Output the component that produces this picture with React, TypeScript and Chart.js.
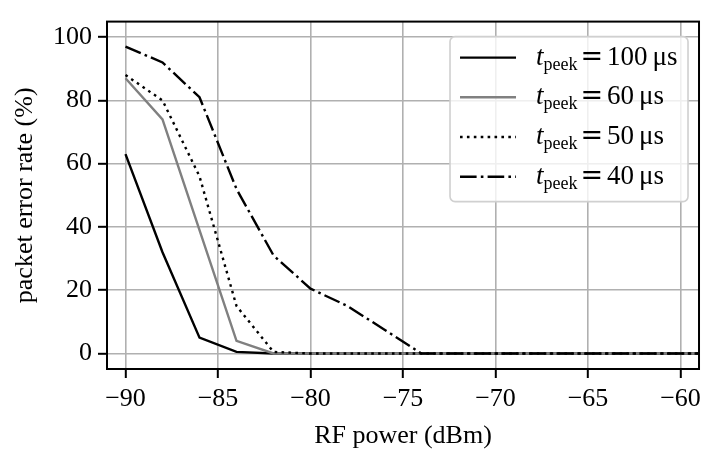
import React, { useEffect, useRef } from 'react';
import { Chart, registerables } from 'chart.js';

Chart.register(...registerables);

const rfPower = [-90, -88, -86, -84, -82, -80, -78, -76, -74, -72, -70, -68, -66, -64, -62, -60, -58];
const per100us = [63, 32, 5, 0.5, 0, 0, 0, 0, 0, 0, 0, 0, 0, 0, 0, 0, 0];
const per60us = [87, 74, 39, 4, 0, 0, 0, 0, 0, 0, 0, 0, 0, 0, 0, 0, 0];
const per50us = [88, 80, 56, 15, 0.5, 0, 0, 0, 0, 0, 0, 0, 0, 0, 0, 0, 0];
const per40us = [97, 92, 81, 52, 31, 20.5, 15, 7.5, 0, 0, 0, 0, 0, 0, 0, 0, 0];
const tpeekValues = ['100', '60', '50', '40'];
const xTicks = [-90, -85, -80, -75, -70, -65, -60];
const yTicks = [0, 20, 40, 60, 80, 100];

const FONT = '"Liberation Serif", "Times New Roman", serif';
const FS = 26;
const LW = 2.4;

const styles = [
  { color: '#000000', dash: [] as number[] },
  { color: '#808080', dash: [] as number[] },
  { color: '#000000', dash: [2.6, 4.3] },
  { color: '#000000', dash: [16.6, 4.2, 2.6, 4.2] },
];

const fmt = (v: number) => (v < 0 ? '\u2212' + Math.abs(v) : String(v));

const framePlugin = {
  id: 'frame',
  afterDatasetsDraw(chart: any) {
    const { ctx, chartArea: a } = chart;
    ctx.save();
    ctx.strokeStyle = '#000';
    ctx.lineWidth = 2;
    ctx.strokeRect(a.left, a.top, a.right - a.left, a.bottom - a.top);
    ctx.restore();
  },
};

const legendPlugin = {
  id: 'mplLegend',
  afterDraw(chart: any) {
    const { ctx, chartArea: a } = chart;
    const w = 238;
    const h = 165;
    const x0 = a.right - 11 - w;
    const y0 = a.top + 15;
    ctx.save();
    const r = 5;
    ctx.beginPath();
    ctx.moveTo(x0 + r, y0);
    ctx.arcTo(x0 + w, y0, x0 + w, y0 + h, r);
    ctx.arcTo(x0 + w, y0 + h, x0, y0 + h, r);
    ctx.arcTo(x0, y0 + h, x0, y0, r);
    ctx.arcTo(x0, y0, x0 + w, y0, r);
    ctx.closePath();
    ctx.fillStyle = 'rgba(255,255,255,0.8)';
    ctx.fill();
    ctx.strokeStyle = '#d0d0d0';
    ctx.lineWidth = 1.6;
    ctx.stroke();

    chart.data.datasets.forEach((ds: any, i: number) => {
      const cy = y0 + 21 + i * 39.7;
      ctx.save();
      ctx.strokeStyle = ds.borderColor;
      ctx.lineWidth = LW;
      ctx.setLineDash(ds.borderDash || []);
      ctx.beginPath();
      ctx.moveTo(x0 + 10, cy);
      ctx.lineTo(x0 + 66, cy);
      ctx.stroke();
      ctx.restore();

      const base = cy + 7;
      let x = x0 + 86;
      ctx.fillStyle = '#000';
      ctx.textBaseline = 'alphabetic';
      ctx.textAlign = 'left';
      ctx.font = `italic 27px ${FONT}`;
      ctx.fillText('t', x, base);
      x += ctx.measureText('t').width;
      ctx.font = `18px ${FONT}`;
      ctx.fillText('peek', x, base + 5);
      x += ctx.measureText('peek').width + 3;
      ctx.font = `27px "DejaVu Serif", ${FONT}`;
      ctx.fillText('=', x, base);
      x += ctx.measureText('=').width + 4;
      ctx.font = `27px ${FONT}`;
      const num = tpeekValues[i];
      ctx.fillText(num, x, base);
      x += ctx.measureText(num).width + 5;
      ctx.fillText('\u03bcs', x, base);
    });
    ctx.restore();
  },
};

export default function App() {
  const ref = useRef<HTMLCanvasElement | null>(null);

  useEffect(() => {
    if (!ref.current) return;
    const series = [per100us, per60us, per50us, per40us];
    const chart = new Chart(ref.current, {
      type: 'line',
      data: {
        datasets: series.map((vals, i) => ({
          label: `t_peek = ${tpeekValues[i]} \u03bcs`,
          data: rfPower.map((x, j) => ({ x, y: vals[j] })),
          borderColor: styles[i].color,
          borderDash: styles[i].dash,
          borderWidth: LW,
          pointRadius: 0,
          tension: 0,
          fill: false,
          order: 3 - i,
        })),
      },
      options: {
        animation: false,
        responsive: false,
        devicePixelRatio: 1,
        layout: { padding: { top: 7, right: 5, left: 0, bottom: 0 } },
        plugins: { legend: { display: false }, tooltip: { enabled: false } },
        scales: {
          x: {
            type: 'linear',
            min: -91,
            max: -59,
            afterBuildTicks: (s: any) => {
              s.ticks = xTicks.map((v) => ({ value: v }));
            },
            afterFit: (s: any) => {
              s.height = 81;
            },
            ticks: {
              callback: (v: any) => fmt(Number(v)),
              font: { family: FONT, size: FS },
              color: '#000',
              padding: 6,
              maxRotation: 0,
              autoSkip: false,
            },
            grid: {
              color: '#b0b0b0',
              lineWidth: 1.6,
              tickLength: 9,
              tickColor: '#000',
              tickWidth: 2,
              drawTicks: true,
            },
            border: { display: true, color: '#000', width: 2 },
            title: {
              display: true,
              text: 'RF power (dBm)',
              font: { family: FONT, size: FS },
              color: '#000',
              padding: { top: 0, bottom: -2 },
            },
          },
          y: {
            type: 'linear',
            min: -4.9,
            max: 104.9,
            afterBuildTicks: (s: any) => {
              s.ticks = yTicks.map((v) => ({ value: v }));
            },
            afterFit: (s: any) => {
              s.width = 107;
            },
            ticks: {
              callback: (v: any) => fmt(Number(v)),
              font: { family: FONT, size: FS },
              color: '#000',
              padding: 6,
            },
            grid: {
              color: '#b0b0b0',
              lineWidth: 1.6,
              tickLength: 9,
              tickColor: '#000',
              tickWidth: 2,
              drawTicks: true,
            },
            border: { display: true, color: '#000', width: 2 },
            title: {
              display: true,
              text: 'packet error rate (%)',
              font: { family: FONT, size: FS },
              color: '#000',
              padding: { top: 10, bottom: 0 },
            },
          },
        },
      },
      plugins: [framePlugin, legendPlugin],
    } as any);
    return () => chart.destroy();
  }, []);

  return (
    <div style={{ position: 'fixed', left: 0, top: 0, width: 707, height: 450, background: '#fff' }}>
      <canvas ref={ref} width={707} height={450} style={{ display: 'block', width: 707, height: 450 }} />
    </div>
  );
}
